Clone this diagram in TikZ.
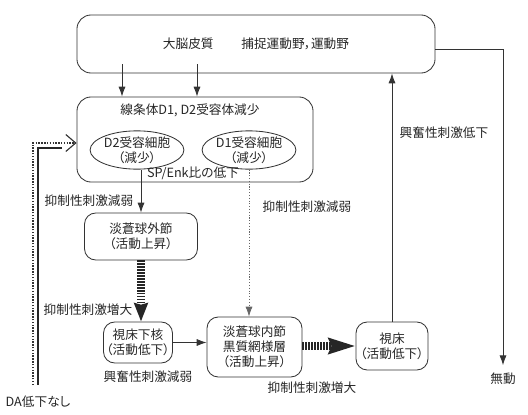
\documentclass[tikz,border=0pt]{standalone}
\usepackage{fontspec}
\setmainfont{Noto Sans CJK JP}[RawFeature=+palt]
\usetikzlibrary{arrows.meta,shapes.geometric}
\begin{document}
\begin{tikzpicture}[x=0.025cm,y=-0.025cm,line width=0.6pt,
  every node/.style={font=\fontsize{9}{10.8}\selectfont,text=black!85},
  box/.style={draw=black!80,rounded corners=8pt,align=center,inner sep=0pt},
  cell/.style={draw=black!80,ellipse,inner sep=0pt,align=center,minimum width=2.05cm,minimum height=0.925cm},
  arr/.style={draw=black!80,-{Latex[length=7pt,width=5pt]}},
  fatv/.style={draw=black!85,line width=5.7pt,dash pattern=on 1.1pt off 1pt,-{Stealth[length=13pt,width=9.5pt,inset=1pt]}},
  fath/.style={draw=black!85,line width=5.7pt,dash pattern=on 1.1pt off 1pt,-{Stealth[length=19pt,width=11pt,inset=2pt]}}]
  \useasboundingbox (0,0) rectangle (528,415);
  % boxes
  \node[box,rounded corners=10pt,minimum width=8.95cm,minimum height=1.45cm] (cortex) at (256,44) {大脳皮質\hspace{2.2em}捕捉運動野，運動野};
  \node[box,rounded corners=10pt,minimum width=5.9cm,minimum height=2.125cm] (striatum) at (195,139.5) {};
  \node (stitle) at (190,110) {線条体D1, D2受容体減少};
  \node[cell] (dtwo) at (137,150) {D2受容細胞\\（減少）};
  \node[cell] (done) at (249,150) {D1受容細胞\\（減少）};
  \node (spenk) at (193,173) {SP/Enk比の低下};
  \node[box,minimum width=2.825cm,minimum height=1.175cm] (gpe) at (141,236.5) {淡蒼球外節\\（活動上昇）};
  \node[box,minimum width=1.725cm,minimum height=1.025cm] (stn) at (138,342.5) {視床下核\\（活動低下）};
  \node[box,minimum width=2.375cm,minimum height=1.5cm] (gpi) at (254.5,347) {淡蒼球内節\\黒質網様層\\（活動上昇）};
  \node[box,minimum width=1.8cm,minimum height=1.2cm] (thal) at (392,346) {視床\\（活動低下）};
  % labels
  \node (inhweaka) at (89,201) {抑制性刺激減弱};
  \node (inhweakb) at (307,207) {抑制性刺激減弱};
  \node (exclow) at (444,133) {興奮性刺激低下};
  \node (inhstronga) at (88,310) {抑制性刺激増大};
  \node (excweak) at (148,377) {興奮性刺激減弱};
  \node (inhstrongb) at (312,388) {抑制性刺激増大};
  \node (akin) at (503,379) {無動};
  \node (danone) at (38,402) {DA低下なし};
  % connectors
  \coordinate (ca) at (122,64);
  \coordinate (cb) at (197,64);
  \draw[arr] (ca) -- (ca |- striatum.north);
  \draw[arr] (cb) -- (cb |- striatum.north);
  \draw[arr] (gpe.north |- dtwo.south) -- (gpe.north);
  \draw[arr,draw=black!60,line width=0.5pt,dash pattern=on 0.8pt off 1.2pt] (done.south) -- (done.south |- gpi.north);
  \draw[fatv] (gpe.south) -- (gpe.south |- stn.north);
  \draw[arr] (stn.east) -- (stn.east -| gpi.west);
  \draw[fath] (gpi.east |- thal.west) -- (thal.west);
  \draw[arr] (thal.north) -- (thal.north |- cortex.south);
  \draw[arr] ([yshift=-4pt]cortex.east) -| ([yshift=2pt]akin.north);
  % DA path
  \coordinate (dastart) at (33,385);
  \coordinate (dbstart) at (38,385);
  \coordinate (dbend) at (62,148);
  \draw[draw=black!80,line width=1.3pt,dash pattern=on 1pt off 1pt,-{Straight Barb[length=7pt,width=12pt,line width=0.8pt]}] (dastart) |- (striatum.west |- 0,143);
  \draw[draw=black!85,line width=1.3pt] (dbstart) |- (dbend);
\end{tikzpicture}
\end{document}
